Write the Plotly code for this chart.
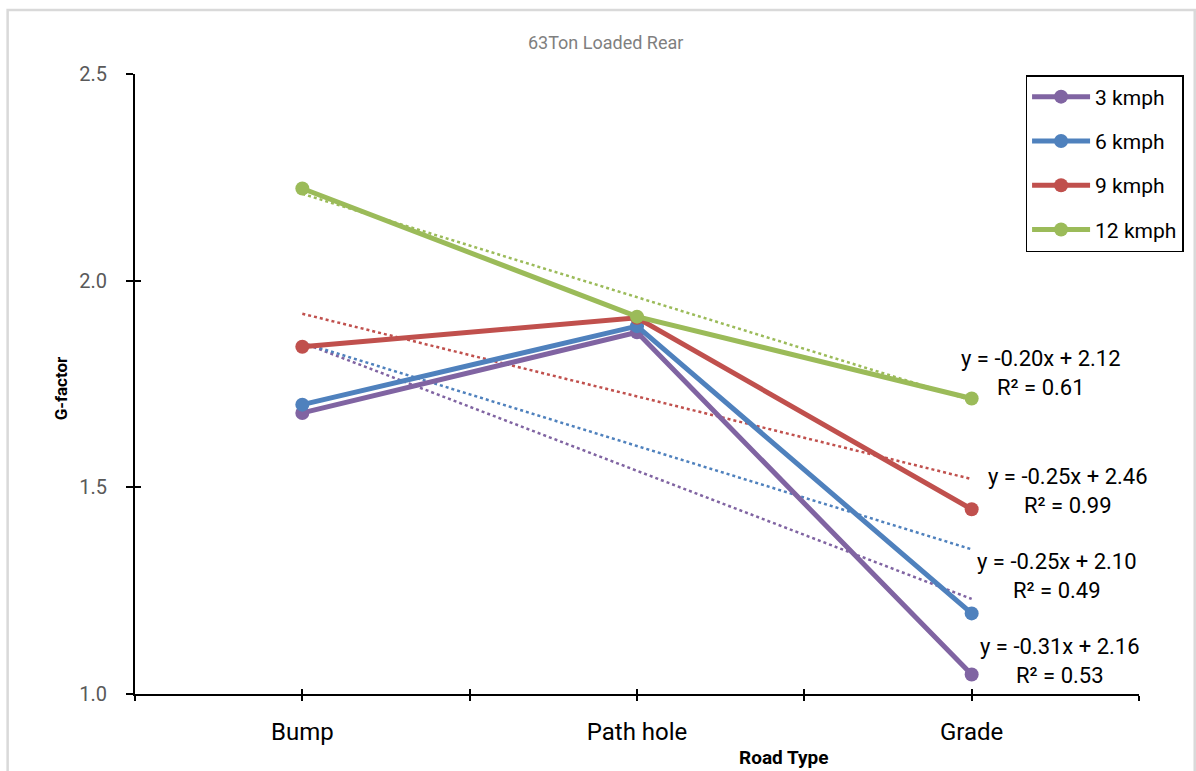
import plotly.graph_objects as go

# Road types on the category axis
road_types = ["Bump", "Path hole", "Grade"]

# G-factor per speed
speeds = ["3 kmph", "6 kmph", "9 kmph", "12 kmph"]
g_3kmph = [1.68, 1.875, 1.047]
g_6kmph = [1.70, 1.89, 1.195]
g_9kmph = [1.84, 1.91, 1.447]
g_12kmph = [2.223, 1.913, 1.715]

# Linear trendlines (slope, intercept, R²) per speed, x = 1..3
trend_slope = [-0.31, -0.25, -0.20, -0.25]
trend_intercept = [2.16, 2.10, 2.12, 2.46]
trend_r2 = [0.53, 0.49, 0.61, 0.99]

colors = ["#8064A2", "#4F81BD", "#C0504D", "#9BBB59"]
series = [g_3kmph, g_6kmph, g_9kmph, g_12kmph]

FONT = "Roboto, sans-serif"
xpos = list(range(len(road_types)))

# plot-area geometry in pixels, used to place free text in paper units
PL, PR, PT, PB = 135, 1144, 74, 694
PW, PH = PR - PL, PB - PT


def px_x(px):
    return (px - PL) / PW


def px_y(py):
    return (PB - py) / PH


fig = go.Figure()

# dotted trendlines first, so the series lines sit on top
for slope, icpt, col in zip(trend_slope, trend_intercept, colors):
    fig.add_trace(go.Scatter(
        x=xpos, y=[slope * (i + 1) + icpt for i in xpos],
        mode="lines", line=dict(color=col, width=2.5, dash="dot"),
        showlegend=False, hoverinfo="skip"))

for name, vals, col in zip(speeds, series, colors):
    fig.add_trace(go.Scatter(
        x=xpos, y=vals, name=name, legendgroup=name,
        mode="lines+markers",
        line=dict(color=col, width=5),
        marker=dict(color=col, size=14)))

# invisible trace carrying the inner half of the tick marks
fig.add_trace(go.Scatter(x=[0], y=[1.0], xaxis="x2", yaxis="y2",
                         mode="markers", marker=dict(opacity=0),
                         showlegend=False, hoverinfo="skip"))

x_tickvals = [-0.5, 0, 0.5, 1, 1.5, 2, 2.5]
x_ticktext = ["", road_types[0], "", road_types[1], "", road_types[2], ""]
y_tickvals = [1.0, 1.5, 2.0, 2.5]

fig.update_layout(
    width=1196, height=771,
    margin=dict(l=PL, r=1196 - PR, t=PT, b=771 - PB),
    paper_bgcolor="white", plot_bgcolor="white",
    showlegend=True,
    xaxis=dict(range=[-0.5, 2.5], tickvals=x_tickvals, ticktext=x_ticktext,
               showgrid=False, zeroline=False, showline=True,
               linecolor="black", linewidth=2,
               ticks="outside", ticklen=5, tickwidth=1.5, tickcolor="black",
               ticklabelstandoff=10,
               tickfont=dict(family=FONT, size=24, color="#000000")),
    yaxis=dict(range=[1.0, 2.5], tickvals=y_tickvals,
               ticktext=["1.0", "1.5", "2.0", "2.5"],
               showgrid=False, zeroline=False, showline=True,
               linecolor="black", linewidth=2,
               ticks="outside", ticklen=7, tickwidth=1.5, tickcolor="black",
               ticklabelstandoff=15,
               tickfont=dict(family=FONT, size=20, color="#595959")),
    xaxis2=dict(overlaying="x", range=[-0.5, 2.5], tickvals=x_tickvals,
                showticklabels=False, showgrid=False, zeroline=False,
                showline=False, ticks="inside", ticklen=5, tickwidth=1.5,
                tickcolor="black", side="bottom"),
    yaxis2=dict(overlaying="y", range=[1.0, 2.5], tickvals=y_tickvals,
                showticklabels=False, showgrid=False, zeroline=False,
                showline=False, ticks="inside", ticklen=6, tickwidth=1.5,
                tickcolor="black", side="left"),
    legend=dict(x=px_x(1030), y=px_y(75), xanchor="left", yanchor="top",
                bgcolor="white", bordercolor="black", borderwidth=1.5,
                traceorder="grouped", tracegroupgap=14,
                font=dict(family=FONT, size=21, color="black"),
                itemwidth=58),
)

# outer chart frame
fig.add_shape(type="rect", xref="paper", yref="paper",
              x0=px_x(7), x1=px_x(1200), y0=px_y(780), y1=px_y(10),
              line=dict(color="#D9D9D9", width=2.5), fillcolor="rgba(0,0,0,0)",
              layer="below")

# chart title
fig.add_annotation(text="63Ton Loaded Rear", xref="paper", yref="paper",
                   x=px_x(608), y=px_y(43), xanchor="center", yanchor="middle",
                   showarrow=False,
                   font=dict(family=FONT, size=18, color="#7F7F7F"))

# axis titles
fig.add_annotation(text="<b>G-factor</b>", xref="paper", yref="paper",
                   x=px_x(61), y=px_y(388), xanchor="center", yanchor="middle",
                   textangle=-90, showarrow=False,
                   font=dict(family=FONT, size=17, color="black"))
fig.add_annotation(text="<b>Road Type</b>", xref="paper", yref="paper",
                   x=px_x(787), y=px_y(757), xanchor="center", yanchor="middle",
                   showarrow=False,
                   font=dict(family=FONT, size=19, color="black"))

# trendline equations, stacked beside the Grade end of the lines
label_order = [2, 3, 1, 0]
label_centers = [(1046, 373), (1073, 491), (1062, 576), (1065, 661)]
for idx, (cx, cy) in zip(label_order, label_centers):
    txt = (f"y = {trend_slope[idx]:.2f}x + {trend_intercept[idx]:.2f}<br>"
           f"R² = {trend_r2[idx]:.2f}")
    fig.add_annotation(text=txt, xref="paper", yref="paper",
                       x=px_x(cx), y=px_y(cy), xanchor="center", yanchor="middle",
                       showarrow=False, align="center",
                       font=dict(family=FONT, size=22, color="black"))

fig.write_html("out.html")
